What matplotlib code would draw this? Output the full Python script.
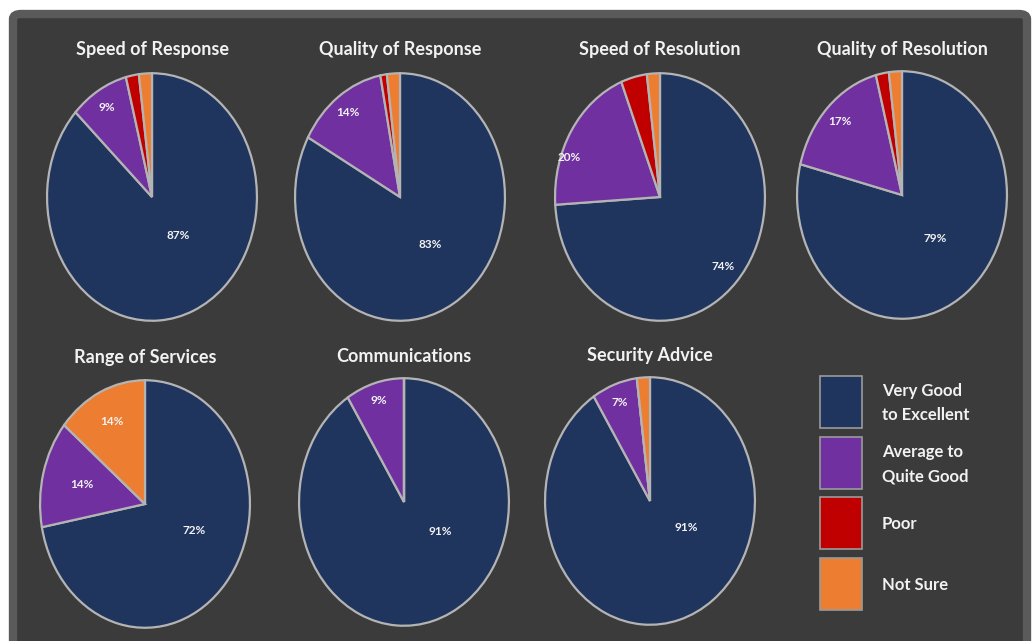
import matplotlib
matplotlib.use("Agg")
import numpy as np
import matplotlib.pyplot as plt
from matplotlib.patches import FancyBboxPatch, Rectangle

titles = ["Speed of Response", "Quality of Response", "Speed of Resolution",
          "Quality of Resolution", "Range of Services", "Communications",
          "Security Advice"]
very_good = [87, 83, 74, 79, 72, 91, 91]
average = [9, 14, 20, 17, 14, 9, 7]
poor = [2, 1, 4, 2, 0, 0, 0]
not_sure = [2, 2, 2, 2, 14, 0, 2]
# which slices get a percentage label
show_label = [
    [True, True, False, False],
    [True, True, False, False],
    [True, True, False, False],
    [True, True, False, False],
    [True, True, False, True],
    [True, True, False, False],
    [True, True, False, False],
]
legend_labels = ["Very Good\nto Excellent", "Average to\nQuite Good", "Poor", "Not Sure"]
colors = ["#1f355e", "#7030a0", "#c00000", "#ed7d31"]

# label placement (radius as fraction of pie, angle nudge in degrees) per pie
navy_r = [0.40, 0.48, 0.82, 0.47, 0.52, 0.42, 0.41]
navy_nudge = [16, 6, 0, 4, 15, 39, 42]
purple_r = [0.84, 0.84, 0.92, 0.84, 0.62, 0.85, 0.85]
purple_nudge = [0, 0, 12, 0, 0, 0, 0]
orange_r = 0.74

W, H = 1034, 641
fig = plt.figure(figsize=(W / 100, H / 100), dpi=100, facecolor="white")

# dark rounded panel
fig.patches.append(FancyBboxPatch((13 / W, -20 / H), 1014 / W, 647 / H,
                                  boxstyle="round,pad=0,rounding_size=0.008",
                                  transform=fig.transFigure, facecolor="#3b3b3b",
                                  edgecolor="#5a5a5a", linewidth=6, zorder=-5))

FONT = ["Lato", "DejaVu Sans"]
TXT = "#f2f2f2"

# pie centers and radii in pixels (layout)
centers = [(152, 197), (400, 197), (660, 197), (902, 195),
           (145, 504), (404, 502), (650, 501)]
rx, ry = 106, 125
title_y = [49, 49, 49, 49, 358, 356, 355]

for i, title in enumerate(titles):
    cx, cy = centers[i]
    ax = fig.add_axes([(cx - rx) / W, 1 - (cy + ry) / H, 2 * rx / W, 2 * ry / H])
    ax.patch.set_visible(False)
    vals = [very_good[i], average[i], poor[i], not_sure[i]]
    wedges, _ = ax.pie(vals, colors=colors, startangle=90, counterclock=False,
                       wedgeprops=dict(edgecolor="#b4b4b4", linewidth=1.6))
    ax.set_aspect("auto")
    ax.set_xlim(-1.01, 1.01)
    ax.set_ylim(-1.01, 1.01)
    ax.axis("off")
    for j, w in enumerate(wedges):
        if not show_label[i][j] or vals[j] == 0:
            continue
        mid = (w.theta1 + w.theta2) / 2
        if j == 0:
            r, mid = navy_r[i], mid + navy_nudge[i]
        elif j == 1:
            r, mid = purple_r[i], mid + purple_nudge[i]
        else:
            r = orange_r
        ang = np.deg2rad(mid)
        ax.text(r * np.cos(ang), r * np.sin(ang), f"{vals[j]}%",
                ha="center", va="center", color=TXT, fontsize=8.5,
                fontweight="bold", family=FONT)
    fig.text(cx / W, 1 - title_y[i] / H, title, ha="center", va="center",
             color=TXT, fontsize=13, fontweight="bold", family=FONT)

# legend
box_tops = [376, 437, 497, 558]
for k, lab in enumerate(legend_labels):
    y0 = box_tops[k]
    fig.patches.append(Rectangle((820 / W, 1 - (y0 + 52) / H), 42 / W, 52 / H,
                                 transform=fig.transFigure, facecolor=colors[k],
                                 edgecolor="#9a9a9a", linewidth=1.2))
    fig.text(882 / W, 1 - (y0 + 27) / H, lab, ha="left", va="center",
             color=TXT, fontsize=12, fontweight="bold", family=FONT,
             linespacing=1.65)

fig.savefig("out.png", dpi=100, facecolor="white")
